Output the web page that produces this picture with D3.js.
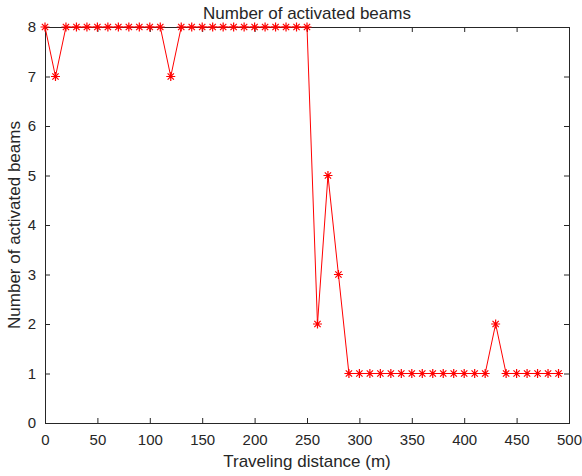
<!DOCTYPE html>
<html>
<head>
<meta charset="utf-8">
<script src="https://cdn.jsdelivr.net/npm/d3@7"></script>
<style>
body{margin:0;background:#fff;}
svg text{font-family:"Liberation Sans",Arial,sans-serif;fill:#262626;}
</style>
</head>
<body>
<div id="chart"></div>
<script>
// distances (m) and number of beams
var distance = d3.range(0, 500, 10);
var beams = [8,7,8,8,8,8,8,8,8,8,8,8,7,8,8,8,8,8,8,8,8,8,8,8,8,8,
             2,5,3,1,1,1,1,1,1,1,1,1,1,1,1,1,1,2,1,1,1,1,1,1];
var xTicks = [0,50,100,150,200,250,300,350,400,450,500];
var yTicks = [0,1,2,3,4,5,6,7,8];

var W = 582, H = 476;
var m = {left:45, right:13, top:27, bottom:53};
var w = W - m.left - m.right, h = H - m.top - m.bottom;

var svg = d3.select("#chart").append("svg").attr("width",W).attr("height",H);
var g = svg.append("g").attr("transform","translate("+m.left+","+m.top+")");

var x = d3.scaleLinear().domain([0,500]).range([0,w]);
var y = d3.scaleLinear().domain([0,8]).range([h,0]);

var axisCol = "#262626";

// box
g.append("rect").attr("width",w).attr("height",h)
  .attr("fill","none").attr("stroke",axisCol).attr("stroke-width",1)
  .style("shape-rendering","crispEdges");

// bottom and left axes, ticks inward
g.append("g").attr("transform","translate(0,"+h+")")
  .call(d3.axisBottom(x).tickValues(xTicks).tickSizeInner(-5).tickSizeOuter(0).tickPadding(11));
g.append("g")
  .call(d3.axisLeft(y).tickValues(yTicks).tickSizeInner(-5).tickSizeOuter(0).tickPadding(9));
// mirrored ticks on top and right
g.append("g").call(d3.axisTop(x).tickValues(xTicks).tickSizeInner(-5).tickSizeOuter(0).tickFormat(""));
g.append("g").attr("transform","translate("+w+",0)")
  .call(d3.axisRight(y).tickValues(yTicks).tickSizeInner(-5).tickSizeOuter(0).tickFormat(""));

g.selectAll("g").attr("font-size",null).attr("font-family",null);
g.selectAll(".domain").attr("stroke",axisCol);
g.selectAll(".tick line").attr("stroke",axisCol);
g.selectAll(".tick text").style("font-size","15px").attr("fill",axisCol);

// line
var line = d3.line().x(function(d,i){return x(distance[i])}).y(function(d){return y(d)});
g.append("path").datum(beams).attr("d",line)
  .attr("fill","none").attr("stroke","#ff0000").attr("stroke-width",1);

// asterisk markers
var r = 4.5;
var star = "M"+(-r)+",0L"+r+",0M0,"+(-r)+"L0,"+r
  + "M"+(-r*0.7)+","+(-r*0.7)+"L"+(r*0.7)+","+(r*0.7)
  + "M"+(-r*0.7)+","+(r*0.7)+"L"+(r*0.7)+","+(-r*0.7);
g.selectAll("path.mk").data(beams).enter().append("path").attr("class","mk")
  .attr("transform",function(d,i){return "translate("+x(distance[i])+","+y(d)+")"})
  .attr("d",star).attr("fill","none").attr("stroke","#ff0000").attr("stroke-width",1.2);

// labels
svg.append("text").attr("x",m.left+w/2).attr("y",19).attr("text-anchor","middle")
  .style("font-size","17px").text("Number of activated beams");
svg.append("text").attr("x",m.left+w/2).attr("y",467).attr("text-anchor","middle")
  .style("font-size","17px").text("Traveling distance (m)");
svg.append("text").attr("transform","translate(20,"+(m.top+h/2)+") rotate(-90)")
  .attr("text-anchor","middle").style("font-size","17px").text("Number of activated beams");
</script>
</body>
</html>
